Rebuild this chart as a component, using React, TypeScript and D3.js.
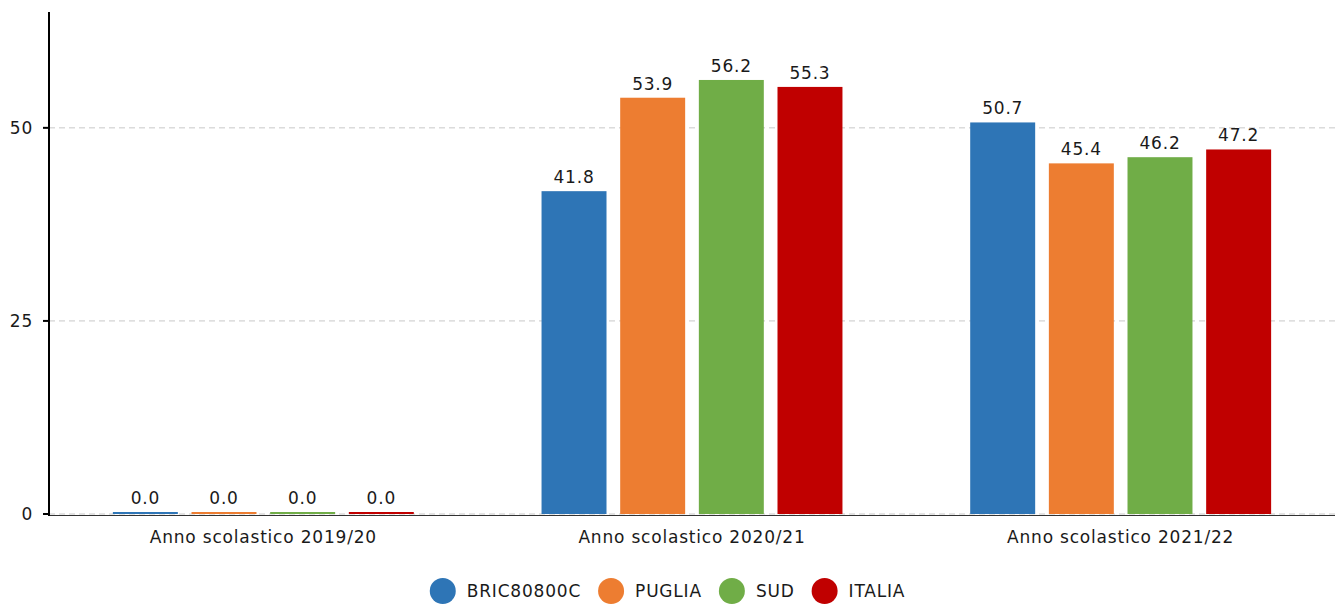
import React, { useEffect, useRef } from "react";
import * as d3 from "d3";

const categories = ["Anno scolastico 2019/20", "Anno scolastico 2020/21", "Anno scolastico 2021/22"];
const seriesNames = ["BRIC80800C", "PUGLIA", "SUD", "ITALIA"];
const seriesColors = ["#2E75B6", "#ED7D31", "#70AD47", "#C00000"];
const bric = [0.0, 41.8, 50.7];
const puglia = [0.0, 53.9, 45.4];
const sud = [0.0, 56.2, 46.2];
const italia = [0.0, 55.3, 47.2];
const yTicks = [0, 25, 50];

const W = 1335;
const H = 606;
const FONT = "DejaVu Sans, Verdana, sans-serif";
const FS = "17px";
const LS = "0.8px";

export default function App() {
  const svgRef = useRef<SVGSVGElement>(null);

  useEffect(() => {
    if (!svgRef.current) return;
    const svg = d3.select(svgRef.current);
    svg.selectAll("*").remove();

    const margin = { top: 12, right: 0, bottom: 92, left: 49 };
    const innerWidth = W - margin.left - margin.right;
    const innerHeight = H - margin.top - margin.bottom;
    const values = [bric, puglia, sud, italia];

    const g = svg.append("g").attr("transform", `translate(${margin.left},${margin.top})`);

    const x0 = d3.scaleBand().domain(categories).range([0, innerWidth]).padding(0);
    const x1 = d3
      .scaleBand()
      .domain(seriesNames)
      .range([x0.bandwidth() * 0.149, x0.bandwidth() * 0.851])
      .paddingInner(0.174)
      .paddingOuter(0);
    const y = d3.scaleLinear().domain([0, 65]).range([innerHeight, 0]);

    const styleText = (sel: any) =>
      sel
        .attr("fill", "#1a1a1a")
        .style("font-family", FONT)
        .style("font-size", FS)
        .style("letter-spacing", LS);

    // grid
    g.selectAll(".grid")
      .data(yTicks)
      .join("line")
      .attr("x1", 0)
      .attr("x2", innerWidth)
      .attr("y1", (d) => y(d))
      .attr("y2", (d) => y(d))
      .attr("stroke", "#c8c8c8")
      .attr("stroke-width", 1)
      .attr("stroke-dasharray", "6,4");

    // baseline
    g.append("line")
      .attr("x1", 0)
      .attr("x2", innerWidth)
      .attr("y1", y(0) + 1.5)
      .attr("y2", y(0) + 1.5)
      .attr("stroke", "#333")
      .attr("stroke-width", 1.2);

    // bars
    categories.forEach((cat, ci) => {
      const grp = g.append("g").attr("transform", `translate(${x0(cat)},0)`);
      seriesNames.forEach((s, si) => {
        const v = values[si][ci];
        const top = y(v);
        const h = Math.max(innerHeight - top, 2);
        grp.append("rect")
          .attr("x", x1(s)!)
          .attr("y", innerHeight - h)
          .attr("width", x1.bandwidth())
          .attr("height", h)
          .attr("fill", seriesColors[si]);
        grp.append("text")
          .attr("x", x1(s)! + x1.bandwidth() / 2)
          .attr("y", innerHeight - h - 8)
          .attr("text-anchor", "middle")
          .call(styleText)
          .text(v.toFixed(1));
      });
    });

    // x labels
    g.selectAll(".xl")
      .data(categories)
      .join("text")
      .attr("x", (d) => x0(d)! + x0.bandwidth() / 2)
      .attr("y", innerHeight + 29)
      .attr("text-anchor", "middle")
      .call(styleText)
      .text((d) => d);

    // y axis
    g.append("line")
      .attr("x1", 0)
      .attr("x2", 0)
      .attr("y1", 0)
      .attr("y2", innerHeight + 2)
      .attr("stroke", "#000")
      .attr("stroke-width", 2);
    g.selectAll(".yt")
      .data(yTicks)
      .join("line")
      .attr("x1", -6)
      .attr("x2", 0)
      .attr("y1", (d) => y(d))
      .attr("y2", (d) => y(d))
      .attr("stroke", "#000")
      .attr("stroke-width", 2);
    g.selectAll(".yl")
      .data(yTicks)
      .join("text")
      .attr("x", -16)
      .attr("y", (d) => y(d))
      .attr("dy", "0.35em")
      .attr("text-anchor", "end")
      .call(styleText)
      .text((d) => String(d));

    // legend
    const legend = svg.append("g");
    let cx = 0;
    seriesNames.forEach((s, i) => {
      const it = legend.append("g");
      it.append("circle").attr("cx", 13).attr("cy", 0).attr("r", 13).attr("fill", seriesColors[i]);
      const t = it.append("text")
        .attr("x", 37)
        .attr("y", 0)
        .attr("dy", "0.35em")
        .call(styleText)
        .text(s);
      const tw = (t.node() as SVGTextElement).getComputedTextLength();
      it.attr("transform", `translate(${cx},0)`);
      cx += 37 + tw + 17;
    });
    const total = cx - 17;
    legend.attr("transform", `translate(${(W - total) / 2}, 591)`);
  }, []);

  return (
    <svg
      ref={svgRef}
      width={W}
      height={H}
      style={{ position: "absolute", left: 0, top: 0, display: "block", background: "#fff" }}
    />
  );
}
